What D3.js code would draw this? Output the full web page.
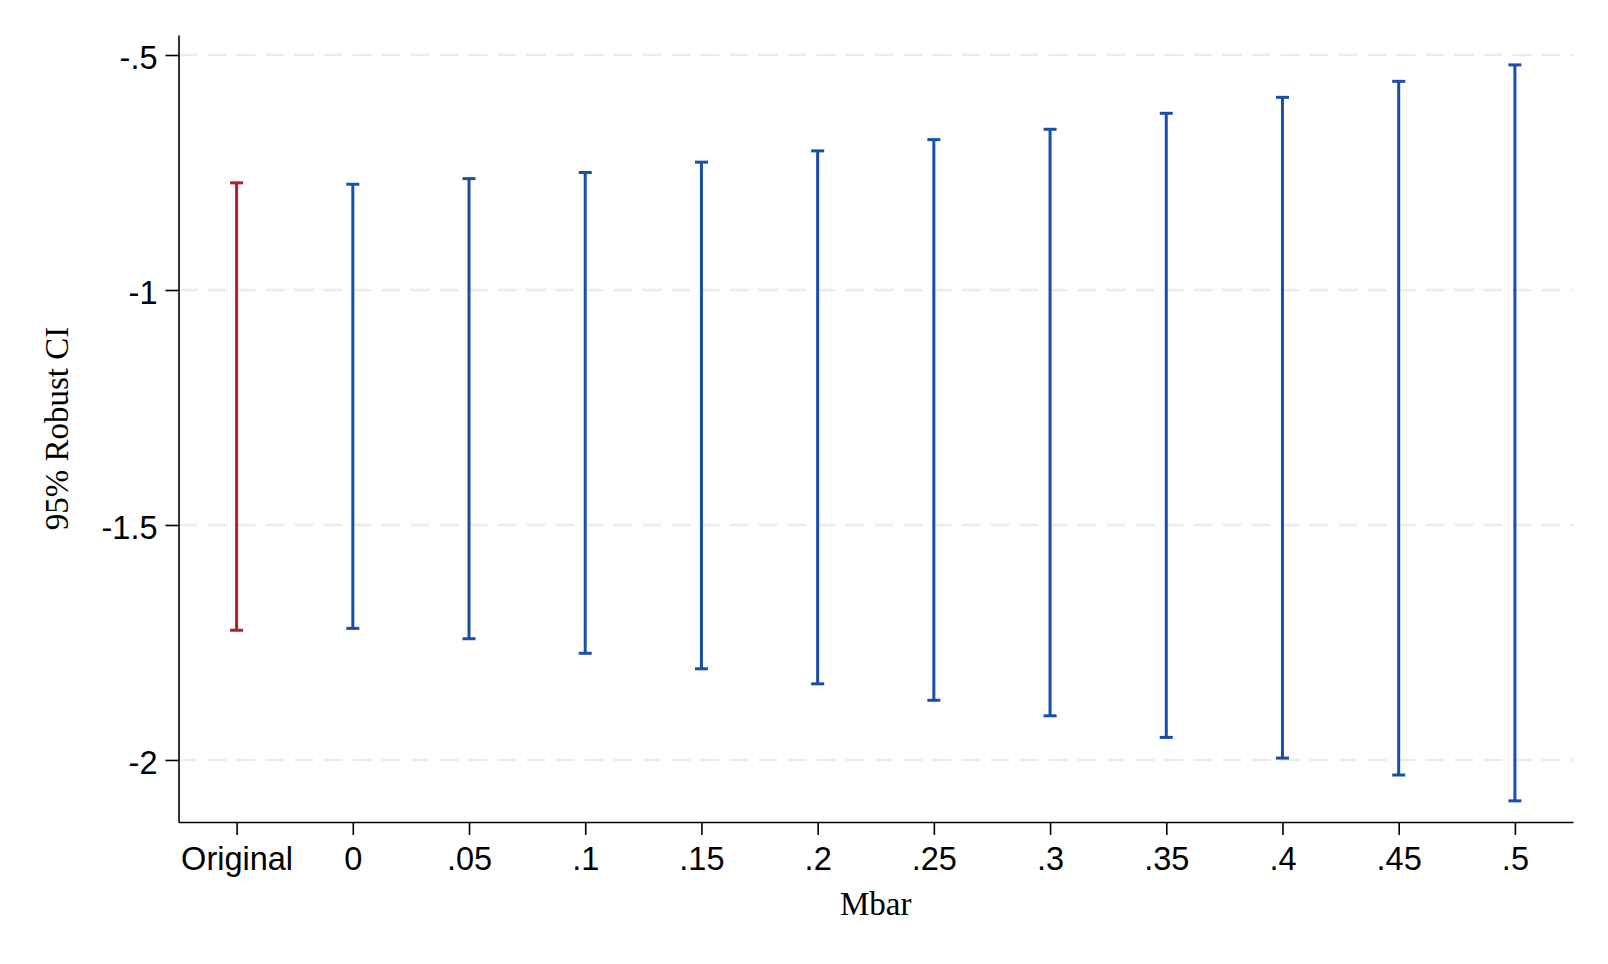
<!DOCTYPE html>
<html>
<head>
<meta charset="utf-8">
<script src="https://cdn.jsdelivr.net/npm/d3@7"></script>
<style>
  body { margin: 0; background: #fff; }
  svg { display: block; }
</style>
</head>
<body>
<svg id="chart"></svg>
<script>
// values
var categories = ['Original', '0', '.05', '.1', '.15', '.2', '.25', '.3', '.35', '.4', '.45', '.5'];
var upper = [-0.772, -0.775, -0.763, -0.750, -0.728, -0.704, -0.680, -0.658, -0.624, -0.590, -0.556, -0.521];
var lower = [-1.724, -1.720, -1.742, -1.773, -1.806, -1.838, -1.873, -1.906, -1.952, -1.996, -2.032, -2.087];
var yTicks = [-0.5, -1, -1.5, -2];
var yTickLabels = ['-.5', '-1', '-1.5', '-2'];

var W = 1608, H = 964;
var margin = { top: 35, right: 35, bottom: 142, left: 178.5 };

var svg = d3.select('#chart').attr('width', W).attr('height', H);

var x = d3.scalePoint()
          .domain(categories)
          .range([margin.left, W - margin.right])
          .padding(0.5);

var y = d3.scaleLinear()
          .domain([-2.132, -0.4574])
          .range([H - margin.bottom, margin.top]);

var bars = categories.map(function(c, i) {
  return { key: c, hi: upper[i], lo: lower[i], original: i === 0 };
});

// dashed grid
svg.append('g')
   .selectAll('line')
   .data(yTicks)
   .enter()
   .append('line')
   .attr('x1', margin.left)
   .attr('x2', W - margin.right)
   .attr('y1', function(d) { return y(d); })
   .attr('y2', function(d) { return y(d); })
   .attr('stroke', '#ececec')
   .attr('stroke-width', 2.5)
   .attr('stroke-dasharray', '19,10');

// axes
var yAxis = d3.axisLeft(y).tickValues(yTicks)
              .tickFormat(function(d, i) { return yTickLabels[i]; })
              .tickSize(13).tickPadding(8).tickSizeOuter(0);
var gy = svg.append('g')
            .attr('transform', 'translate(' + margin.left + ',0)')
            .call(yAxis);

var xAxis = d3.axisBottom(x).tickSize(13).tickPadding(9).tickSizeOuter(0);
var gx = svg.append('g')
            .attr('transform', 'translate(0,' + (H - margin.bottom) + ')')
            .call(xAxis);

[gx, gy].forEach(function(g) {
  g.select('.domain').attr('stroke', '#000').attr('stroke-width', 1.6);
  g.selectAll('.tick line').attr('stroke', '#000').attr('stroke-width', 1.6);
  g.selectAll('.tick text')
   .attr('fill', '#000')
   .style('font-family', 'Helvetica, Arial, "Liberation Sans", sans-serif')
   .style('font-size', '32.5px');
});
gy.selectAll('.tick text').attr('dy', '0.42em');
gx.selectAll('.tick text').attr('dy', '0.8em');

// error bars
var eb = svg.append('g')
            .selectAll('g')
            .data(bars)
            .enter()
            .append('g')
            .attr('stroke', function(d) { return d.original ? '#b71f28' : '#1a4ea9'; })
            .attr('stroke-width', 3);

eb.append('line')
  .attr('x1', function(d) { return x(d.key); })
  .attr('x2', function(d) { return x(d.key); })
  .attr('y1', function(d) { return y(d.hi); })
  .attr('y2', function(d) { return y(d.lo); });

eb.selectAll('line.cap')
  .data(function(d) { return [{ key: d.key, v: d.hi }, { key: d.key, v: d.lo }]; })
  .enter()
  .append('line')
  .attr('class', 'cap')
  .attr('x1', function(d) { return x(d.key) - 6.5; })
  .attr('x2', function(d) { return x(d.key) + 6.5; })
  .attr('y1', function(d) { return y(d.v); })
  .attr('y2', function(d) { return y(d.v); });

// titles
svg.append('text')
   .attr('x', (margin.left + W - margin.right) / 2)
   .attr('y', 915)
   .attr('text-anchor', 'middle')
   .style('font-family', '"Times New Roman", "Liberation Serif", serif')
   .style('font-size', '33px')
   .text('Mbar');

svg.append('text')
   .attr('transform', 'translate(68,' + ((margin.top + H - margin.bottom) / 2) + ') rotate(-90)')
   .attr('text-anchor', 'middle')
   .style('font-family', '"Times New Roman", "Liberation Serif", serif')
   .style('font-size', '33px')
   .text('95% Robust CI');
</script>
</body>
</html>
